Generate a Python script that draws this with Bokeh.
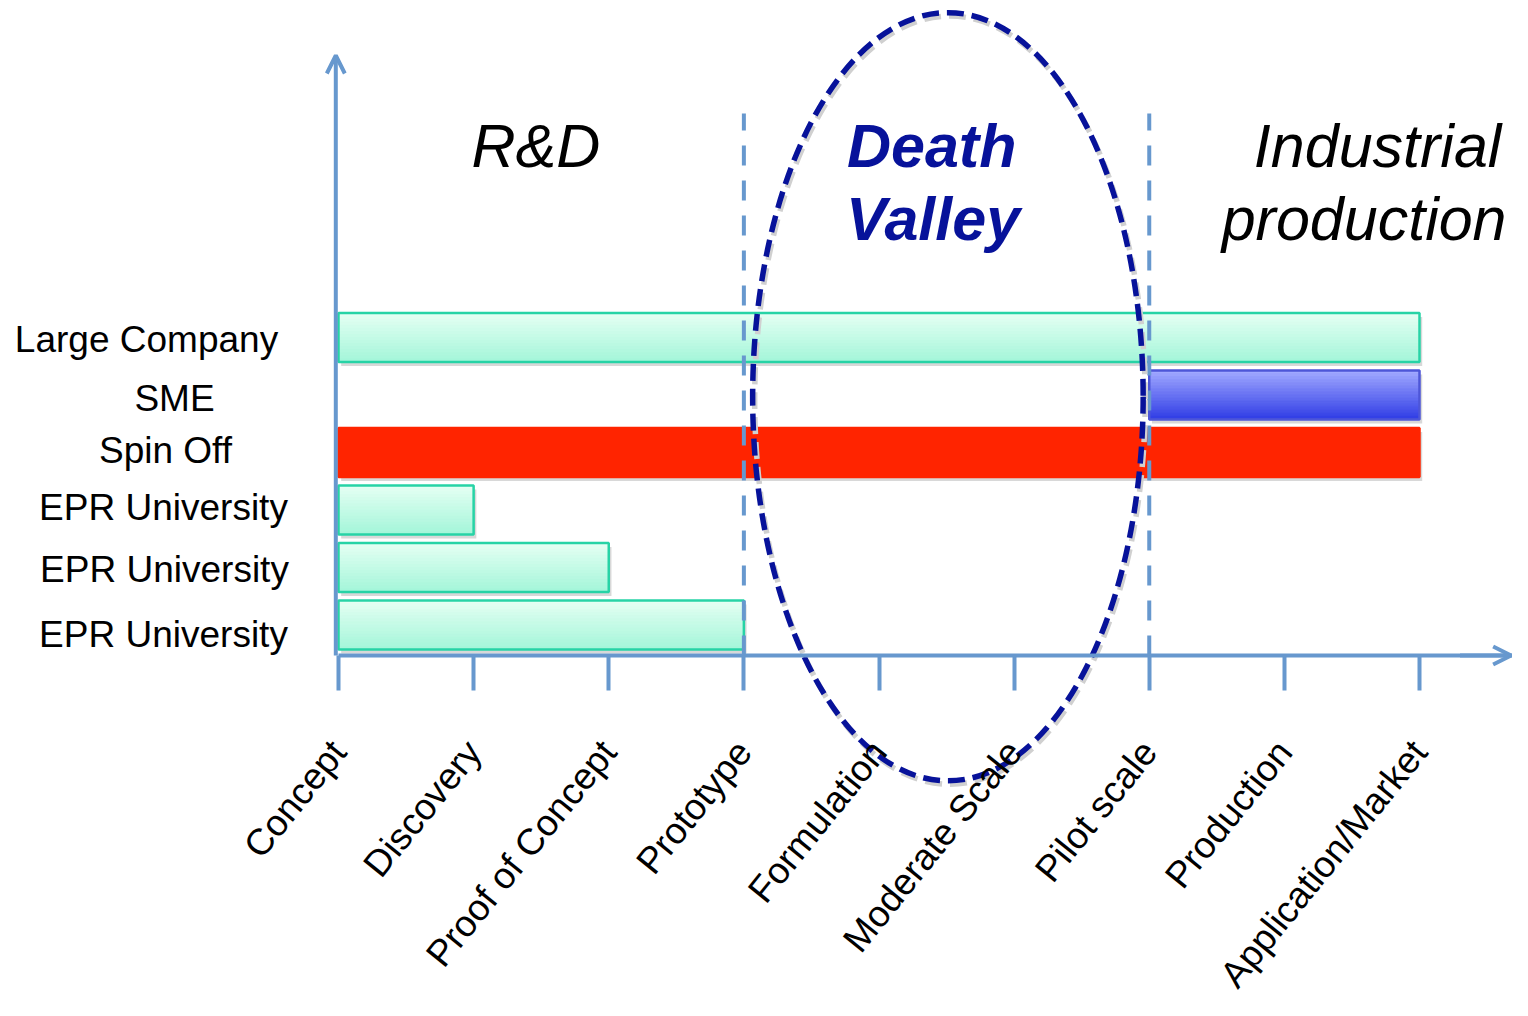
import numpy as np
from bokeh.plotting import figure
from bokeh.models import Range1d, FixedTicker, ColumnDataSource, Arrow, OpenHead
from bokeh.core.properties import value
from bokeh.embed import file_html
from bokeh.resources import INLINE

# ---------------- data ----------------
stages = ["Concept", "Discovery", "Proof of Concept", "Prototype", "Formulation",
          "Moderate Scale", "Pilot scale", "Production", "Application/Market"]
# actors listed bottom -> top
actors = ["EPR University", "EPR University", "EPR University", "Spin Off", "SME", "Large Company"]
bar_start = [0, 0, 0, 0, 6, 0]
bar_end = [3, 2, 1, 8, 8, 8]
bar_kind = ["green", "green", "green", "red", "blue", "green"]
phase_bounds = [3, 6]
phase_lines = ["R&D", "Death", "Valley", "Industrial", "production"]

# ---------------- layout / style ----------------
PX_X = 135.125
PX_Y = 57.5
X0, X1 = -338 / PX_X, (1512 - 338) / PX_X
AXIS_Y = -30.5 / PX_Y
Y0, Y1 = (624.5 - 1000) / PX_Y, 624.5 / PX_Y
BAR_H = 0.85
AX = "#6798ce"
NAVY = "#07129a"
FONT = "Liberation Sans"

palette = {"green": ("#e4fff3", "#a6f6da", "#27d3a6"),
           "blue": ("#a0a8ff", "#3340e6", "#4d56d8"),
           "red": ("#ff2400", "#ff2400", "#ff2400")}


def mix(c1, c2, t):
    a = [int(c1[i:i + 2], 16) for i in (1, 3, 5)]
    b = [int(c2[i:i + 2], 16) for i in (1, 3, 5)]
    return "#" + "".join("%02x" % int(round(a[k] + (b[k] - a[k]) * t)) for k in range(3))


p = figure(width=1512, height=1000, x_range=Range1d(X0, X1), y_range=Range1d(Y0, Y1),
           y_axis_location=None, title_location=None,
           output_backend="svg", toolbar_location=None,
           min_border_left=0, min_border_right=0, min_border_top=0, min_border_bottom=0)
p.xgrid.visible = False
p.ygrid.visible = False
p.outline_line_color = None
p.background_fill_color = "white"

rows = np.arange(len(actors), dtype=float)

# shadows
sh = ColumnDataSource(dict(left=np.array(bar_start) + 0.02, right=np.array(bar_end) + 0.02,
                           bottom=rows - BAR_H / 2 - 0.07, top=rows + BAR_H / 2 - 0.07))
p.quad(left="left", right="right", bottom="bottom", top="top", source=sh,
       fill_color="#d8d8d8", line_color=None)

# gradient stripes
N = 16
sl, sr, sb, st, sc = [], [], [], [], []
for r, a, b, k in zip(rows, bar_start, bar_end, bar_kind):
    c_top, c_bot, _ = palette[k]
    ytop = r + BAR_H / 2
    n = 1 if c_top == c_bot else N
    for j in range(n):
        sl.append(a)
        sr.append(b)
        st.append(ytop - j * BAR_H / n)
        sb.append(ytop - (j + 1) * BAR_H / n)
        sc.append(mix(c_top, c_bot, j / max(n - 1, 1)))
p.quad(left=sl, right=sr, bottom=sb, top=st, fill_color=sc, line_color=sc, line_width=1)

# outlines
ol = ColumnDataSource(dict(left=bar_start, right=bar_end, bottom=rows - BAR_H / 2,
                           top=rows + BAR_H / 2, lc=[palette[k][2] for k in bar_kind]))
p.quad(left="left", right="right", bottom="bottom", top="top", source=ol,
       fill_alpha=0, line_color="lc", line_width=2.5)

# phase boundaries (dashed)
p.segment(x0=phase_bounds, x1=phase_bounds, y0=[AXIS_Y] * 2, y1=[(624.5 - 113) / PX_Y] * 2,
          line_color=AX, line_width=4, line_dash="20 15")

# death valley ellipse
EC_X, EC_Y, E_W, E_H = 4.51, 3.97, 2.89, 13.36
p.ellipse(x=[EC_X + 0.015], y=[EC_Y - 0.06], width=[E_W], height=[E_H], fill_alpha=0,
          line_color="#d0d0d0", line_width=5.5, line_dash="17 8")
p.ellipse(x=[EC_X], y=[EC_Y], width=[E_W], height=[E_H], fill_alpha=0,
          line_color=NAVY, line_width=5.5, line_dash="17 8")

# axes arrows
p.add_layout(Arrow(end=OpenHead(size=18, line_color=AX, line_width=4),
                   x_start=-0.02, y_start=AXIS_Y, x_end=-0.02, y_end=(624.5 - 55) / PX_Y,
                   line_color=AX, line_width=4))
p.add_layout(Arrow(end=OpenHead(size=18, line_color=AX, line_width=4),
                   x_start=8.3, y_start=AXIS_Y, x_end=X1 - 0.01, y_end=AXIS_Y,
                   line_color=AX, line_width=4))

# x axis (fixed inside the frame so the ellipse can cross it)
ax = p.xaxis[0]
ax.fixed_location = AXIS_Y
ax.ticker = FixedTicker(ticks=list(range(len(stages))))
ax.major_label_overrides = {i: s for i, s in enumerate(stages)}
ax.major_label_orientation = np.deg2rad(51)
ax.major_label_text_font = FONT
ax.major_label_text_font_size = "37px"
ax.major_label_text_color = "black"
ax.major_label_standoff = 55
ax.axis_line_color = AX
ax.axis_line_width = 4
ax.major_tick_line_color = AX
ax.major_tick_line_width = 4
ax.major_tick_out = 35
ax.major_tick_in = 0
ax.minor_tick_line_color = None
ax.bounds = (0, X1)

# actor labels
lab_x = [(x - 338) / PX_X for x in [163, 164, 163, 165, 174, 146]]
lab_dy = [-0.165, -0.04, 0.05, 0.035, -0.06, -0.035]
p.text(x=lab_x, y=rows + np.array(lab_dy), text=actors, text_align="center",
       text_baseline="middle", text_font=value(FONT), text_font_size="37px",
       text_color="black")

# phase titles
tx = [1.46, 4.39, 4.40, 7.69, 7.59]
ty = [8.33, 8.33, 7.06, 8.33, 7.06]
tc = ["black", NAVY, NAVY, "black", "black"]
tst = ["italic", "bold italic", "bold italic", "italic", "italic"]
p.text(x=tx, y=ty, text=phase_lines, text_align="center", text_baseline="alphabetic",
       text_font=value(FONT), text_font_size="61px", text_color=tc, text_font_style=tst)

open("out.html", "w").write(file_html(p, INLINE))
